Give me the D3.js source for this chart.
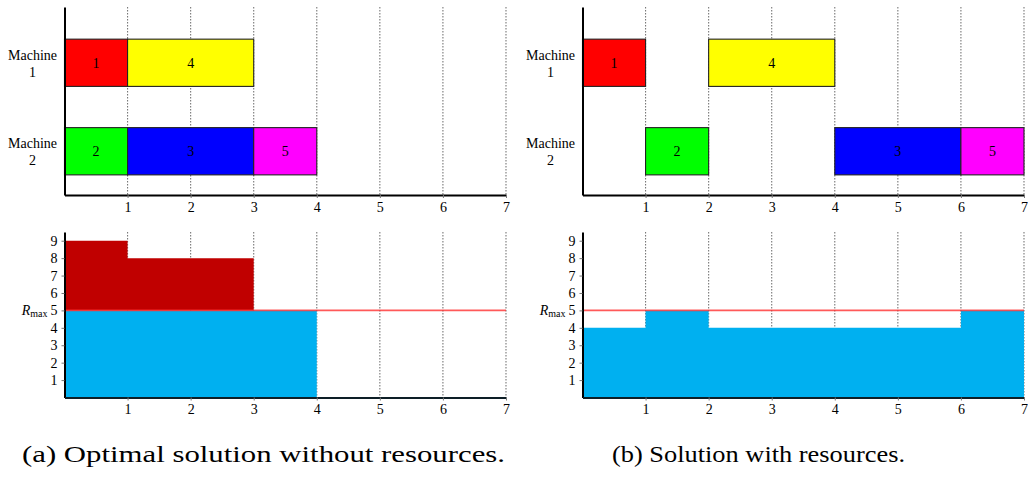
<!DOCTYPE html>
<html>
<head>
<meta charset="utf-8">
<script src="https://cdn.jsdelivr.net/npm/d3@7"></script>
<style>
  body { margin: 0; background: #fff; }
  svg { display: block; font-family: "Liberation Serif", "Times New Roman", serif; }
</style>
</head>
<body>
<svg id="chart" width="1028" height="477"></svg>
<script>
'use strict';

// data
const machines = ['1', '2'];
const jobIds = [1, 2, 3, 4, 5];
const jobColor = { 1: '#ff0000', 2: '#00ff00', 3: '#0000ff', 4: '#ffff00', 5: '#ff00ff' };

// (a) optimal schedule, no resources
const machineA = ['1', '2', '2', '1', '2'];
const startA = [0, 0, 1, 1, 3];
const endA = [1, 1, 3, 3, 4];
const stepTimesA = [0, 1, 3, 4];
const usageA = [9, 8, 5];

// (b) schedule with resources
const machineB = ['1', '2', '2', '1', '2'];
const startB = [0, 1, 4, 2, 6];
const endB = [1, 2, 6, 4, 7];
const stepTimesB = [0, 1, 2, 6, 7];
const usageB = [4, 5, 4, 5];

const rMax = 5;
const xTicks = [1, 2, 3, 4, 5, 6, 7];
const yTicks = [1, 2, 3, 4, 5, 6, 7, 8, 9];
const captions = ['(a) Optimal solution without resources.', '(b) Solution with resources.'];

const svg = d3.select('#chart');
const unit = 63.07;
const fmt = d3.format('d');

// shared look for every axis
function styleAxis(a, domainColor) {
  a.attr('font-family', null).attr('font-size', null);
  a.select('.domain').attr('stroke-width', 2).attr('stroke', domainColor || '#000');
  a.selectAll('.tick line').attr('stroke', '#777');
  a.selectAll('.tick text').attr('font-size', 14).attr('fill', '#000');
}

function drawPanel(x0, machine, start, end, stepTimes, usage, caption, capX, capW) {
  const g = svg.append('g');
  const x = d3.scaleLinear().domain([0, 7]).range([x0, x0 + 7 * unit]);

  // ---- top: gantt chart ----
  const yM = d3.scaleBand().domain(machines).range([7, 195])
    .paddingInner(0.466).paddingOuter(0.2955).align(0.615);

  g.append('g').selectAll('line').data(xTicks).join('line')
    .attr('x1', d => x(d)).attr('x2', d => x(d))
    .attr('y1', 7).attr('y2', 195)
    .attr('stroke', '#777').attr('stroke-width', 1.1)
    .attr('stroke-dasharray', '1.4,1.6');

  const jobs = jobIds.map((id, i) => ({ id, m: machine[i], s: start[i], e: end[i] }));
  const bars = g.append('g').selectAll('g').data(jobs).join('g');
  bars.append('rect')
    .attr('x', d => x(d.s)).attr('y', d => yM(d.m))
    .attr('width', d => x(d.e) - x(d.s)).attr('height', yM.bandwidth())
    .attr('fill', d => jobColor[d.id])
    .attr('stroke', '#222').attr('stroke-width', 1.1);
  bars.append('text')
    .attr('x', d => (x(d.s) + x(d.e)) / 2)
    .attr('y', d => yM(d.m) + yM.bandwidth() / 2)
    .attr('dy', '0.35em').attr('text-anchor', 'middle')
    .attr('font-size', 14).attr('fill', '#000').text(d => d.id);

  const ml = g.append('g').selectAll('text').data(machines).join('text')
    .attr('x', x0 - 32).attr('y', d => yM(d) + yM.bandwidth() / 2)
    .attr('text-anchor', 'middle').attr('font-size', 14).attr('fill', '#000');
  ml.append('tspan').attr('x', x0 - 32).attr('dy', '-0.2em').text('Machine');
  ml.append('tspan').attr('x', x0 - 32).attr('dy', '1.2em').text(d => d);

  g.append('g').attr('transform', `translate(${x0},0)`)
    .call(d3.axisLeft(yM).tickValues([]).tickSizeOuter(0))
    .call(a => styleAxis(a));
  g.append('g').attr('transform', 'translate(0,195)')
    .call(d3.axisBottom(x).tickValues(xTicks).tickFormat(fmt).tickSize(3).tickSizeOuter(0).tickPadding(4))
    .call(a => styleAxis(a));

  // ---- bottom: resource usage ----
  const y = d3.scaleLinear().domain([0, 9.5]).range([397.5, 232]);

  g.append('g').selectAll('line').data(xTicks).join('line')
    .attr('x1', d => x(d)).attr('x2', d => x(d))
    .attr('y1', 232).attr('y2', 397.5)
    .attr('stroke', '#777').attr('stroke-width', 1.1)
    .attr('stroke-dasharray', '1.4,1.6');

  const pts = stepTimes.map((t, i) => ({ t, v: usage[Math.min(i, usage.length - 1)] }));
  const under = d3.area().curve(d3.curveStepAfter)
    .x(d => x(d.t)).y0(y(0)).y1(d => y(Math.min(d.v, rMax)));
  const over = d3.area().curve(d3.curveStepAfter)
    .x(d => x(d.t)).y0(y(rMax)).y1(d => y(Math.max(d.v, rMax)));
  g.append('path').datum(pts).attr('d', under).attr('fill', '#00b0f0');
  g.append('path').datum(pts).attr('d', over).attr('fill', '#c00000');

  g.append('line')
    .attr('x1', x(0)).attr('x2', x(7)).attr('y1', y(rMax)).attr('y2', y(rMax))
    .attr('stroke', '#ff3030').attr('stroke-opacity', 0.8).attr('stroke-width', 1.6);

  g.append('g').attr('transform', `translate(${x0},0)`)
    .call(d3.axisLeft(y).tickValues(yTicks).tickFormat(fmt).tickSize(3).tickSizeOuter(0).tickPadding(4))
    .call(a => styleAxis(a));
  g.append('g').attr('transform', 'translate(0,397.5)')
    .call(d3.axisBottom(x).tickValues(xTicks).tickFormat(fmt).tickSize(3).tickSizeOuter(0).tickPadding(4))
    .call(a => styleAxis(a, '#0d1e26'));

  const rl = g.append('text').attr('x', x0 - 17).attr('y', y(rMax)).attr('dy', '0.35em')
    .attr('text-anchor', 'end').attr('font-size', 14).attr('fill', '#000');
  rl.append('tspan').attr('font-style', 'italic').text('R');
  rl.append('tspan').attr('font-size', 10).attr('dy', 2).text('max');

  // caption
  g.append('text').attr('x', capX).attr('y', 462)
    .attr('font-size', 23).attr('fill', '#000')
    .attr('textLength', capW).attr('lengthAdjust', 'spacingAndGlyphs')
    .text(caption);
}

drawPanel(64.5, machineA, startA, endA, stepTimesA, usageA, captions[0], 22, 483);
drawPanel(582.5, machineB, startB, endB, stepTimesB, usageB, captions[1], 612, 293);
</script>
</body>
</html>
